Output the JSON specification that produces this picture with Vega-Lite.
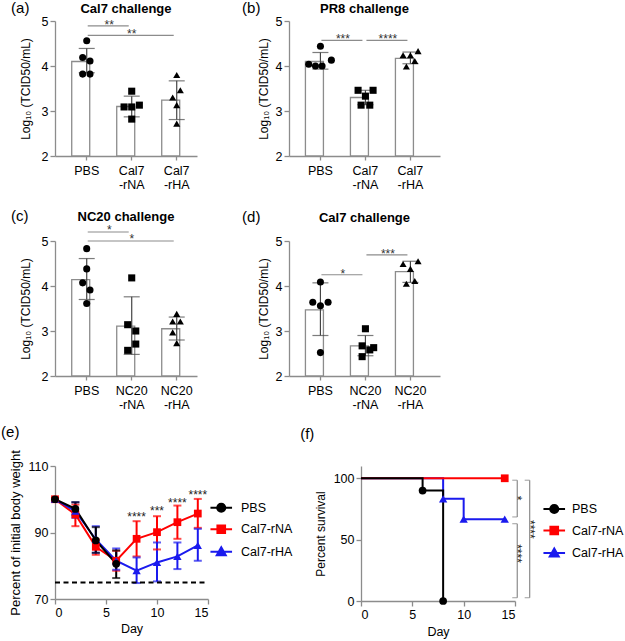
{
"$schema": "https://vega.github.io/schema/vega-lite/v6.json",
"padding": {"left": 1, "top": 1, "right": 1, "bottom": 1},
"config": {
 "font": "Liberation Sans",
 "view": {"stroke": null},
 "axis": {"grid": false, "domainColor": "#8c8c8c", "domainWidth": 1.3, "tickColor": "#8c8c8c", "tickWidth": 1.3, "tickSize": 5, "labelColor": "#000", "labelFontSize": 12.5, "titleFontSize": 12, "titleFontWeight": "normal", "titleColor": "#000", "labelPadding": 2, "titlePadding": 8},
 "title": {"fontSize": 15, "fontWeight": "normal", "anchor": "start", "frame": "bounds", "color": "#000"}
},
"datasets": {
 "bars": [
  {"p": "a", "g": "PBS", "m": 4.10, "lo": 3.85, "hi": 4.39},
  {"p": "a", "g": "Cal7-rNA", "m": 3.10, "lo": 2.87, "hi": 3.33},
  {"p": "a", "g": "Cal7-rHA", "m": 3.24, "lo": 2.81, "hi": 3.67},
  {"p": "b", "g": "PBS", "m": 4.10, "lo": 3.93, "hi": 4.30},
  {"p": "b", "g": "Cal7-rNA", "m": 3.30, "lo": 3.14, "hi": 3.46},
  {"p": "b", "g": "Cal7-rHA", "m": 4.17, "lo": 4.05, "hi": 4.31},
  {"p": "c", "g": "PBS", "m": 4.14, "lo": 3.70, "hi": 4.61},
  {"p": "c", "g": "NC20-rNA", "m": 3.11, "lo": 2.48, "hi": 3.76},
  {"p": "c", "g": "NC20-rHA", "m": 3.05, "lo": 2.80, "hi": 3.31},
  {"p": "d", "g": "PBS", "m": 3.47, "lo": 2.90, "hi": 4.07},
  {"p": "d", "g": "NC20-rNA", "m": 2.67, "lo": 2.45, "hi": 2.90},
  {"p": "d", "g": "NC20-rHA", "m": 4.32, "lo": 4.08, "hi": 4.55}
 ],
 "pts": [
  {"p": "a", "g": "PBS", "v": 4.56, "j": 0},
  {"p": "a", "g": "PBS", "v": 4.19, "j": -0.27},
  {"p": "a", "g": "PBS", "v": 4.11, "j": 0.22},
  {"p": "a", "g": "PBS", "v": 3.82, "j": -0.27},
  {"p": "a", "g": "PBS", "v": 3.82, "j": 0.22},
  {"p": "a", "g": "Cal7-rNA", "v": 3.44, "j": 0},
  {"p": "a", "g": "Cal7-rNA", "v": 3.09, "j": -0.51},
  {"p": "a", "g": "Cal7-rNA", "v": 3.09, "j": 0},
  {"p": "a", "g": "Cal7-rNA", "v": 3.13, "j": 0.51},
  {"p": "a", "g": "Cal7-rNA", "v": 2.82, "j": 0},
  {"p": "a", "g": "Cal7-rHA", "v": 3.80, "j": 0},
  {"p": "a", "g": "Cal7-rHA", "v": 3.46, "j": 0.24},
  {"p": "a", "g": "Cal7-rHA", "v": 3.30, "j": -0.27},
  {"p": "a", "g": "Cal7-rHA", "v": 3.13, "j": 0},
  {"p": "a", "g": "Cal7-rHA", "v": 2.72, "j": 0},
  {"p": "b", "g": "PBS", "v": 4.44, "j": 0},
  {"p": "b", "g": "PBS", "v": 4.04, "j": -0.78},
  {"p": "b", "g": "PBS", "v": 4.00, "j": -0.33},
  {"p": "b", "g": "PBS", "v": 4.00, "j": 0.11},
  {"p": "b", "g": "PBS", "v": 4.13, "j": 0.73},
  {"p": "b", "g": "Cal7-rNA", "v": 3.46, "j": -0.49},
  {"p": "b", "g": "Cal7-rNA", "v": 3.46, "j": 0.51},
  {"p": "b", "g": "Cal7-rNA", "v": 3.33, "j": 0},
  {"p": "b", "g": "Cal7-rNA", "v": 3.13, "j": -0.29},
  {"p": "b", "g": "Cal7-rNA", "v": 3.13, "j": 0.29},
  {"p": "b", "g": "Cal7-rHA", "v": 4.33, "j": 0.51},
  {"p": "b", "g": "Cal7-rHA", "v": 4.24, "j": -0.49},
  {"p": "b", "g": "Cal7-rHA", "v": 4.24, "j": 0},
  {"p": "b", "g": "Cal7-rHA", "v": 4.11, "j": 0.29},
  {"p": "b", "g": "Cal7-rHA", "v": 3.99, "j": -0.27},
  {"p": "c", "g": "PBS", "v": 4.83, "j": 0},
  {"p": "c", "g": "PBS", "v": 4.38, "j": 0},
  {"p": "c", "g": "PBS", "v": 4.07, "j": -0.27},
  {"p": "c", "g": "PBS", "v": 3.91, "j": 0.22},
  {"p": "c", "g": "PBS", "v": 3.61, "j": 0},
  {"p": "c", "g": "NC20-rNA", "v": 4.18, "j": 0},
  {"p": "c", "g": "NC20-rNA", "v": 3.14, "j": -0.27},
  {"p": "c", "g": "NC20-rNA", "v": 3.00, "j": 0.27},
  {"p": "c", "g": "NC20-rNA", "v": 2.71, "j": 0.27},
  {"p": "c", "g": "NC20-rNA", "v": 2.57, "j": -0.27},
  {"p": "c", "g": "NC20-rHA", "v": 3.38, "j": 0},
  {"p": "c", "g": "NC20-rHA", "v": 3.21, "j": -0.27},
  {"p": "c", "g": "NC20-rHA", "v": 3.21, "j": 0.24},
  {"p": "c", "g": "NC20-rHA", "v": 2.97, "j": -0.27},
  {"p": "c", "g": "NC20-rHA", "v": 2.73, "j": 0},
  {"p": "d", "g": "PBS", "v": 4.09, "j": 0},
  {"p": "d", "g": "PBS", "v": 3.64, "j": -0.51},
  {"p": "d", "g": "PBS", "v": 3.56, "j": 0},
  {"p": "d", "g": "PBS", "v": 3.64, "j": 0.51},
  {"p": "d", "g": "PBS", "v": 2.52, "j": 0},
  {"p": "d", "g": "NC20-rNA", "v": 3.05, "j": 0},
  {"p": "d", "g": "NC20-rNA", "v": 2.67, "j": -0.22},
  {"p": "d", "g": "NC20-rNA", "v": 2.63, "j": 0.55},
  {"p": "d", "g": "NC20-rNA", "v": 2.58, "j": 0.29},
  {"p": "d", "g": "NC20-rNA", "v": 2.43, "j": -0.22},
  {"p": "d", "g": "NC20-rHA", "v": 4.49, "j": -0.49},
  {"p": "d", "g": "NC20-rHA", "v": 4.55, "j": 0.51},
  {"p": "d", "g": "NC20-rHA", "v": 4.38, "j": 0},
  {"p": "d", "g": "NC20-rHA", "v": 4.05, "j": -0.27},
  {"p": "d", "g": "NC20-rHA", "v": 4.11, "j": 0.29}
 ],
 "sig": [
  {"p": "a", "g1": "PBS", "g2": "Cal7-rNA", "lev": 4.89, "t": "**", "span": 1},
  {"p": "a", "g1": "PBS", "g2": "Cal7-rHA", "lev": 4.68, "t": "**", "span": 2},
  {"p": "b", "g1": "PBS", "g2": "Cal7-rNA", "lev": 4.57, "t": "***", "span": 1},
  {"p": "b", "g1": "Cal7-rNA", "g2": "Cal7-rHA", "lev": 4.57, "t": "****", "span": 1},
  {"p": "c", "g1": "PBS", "g2": "NC20-rNA", "lev": 5.2, "t": "*", "span": 1},
  {"p": "c", "g1": "PBS", "g2": "NC20-rHA", "lev": 5.0, "t": "*", "span": 2},
  {"p": "d", "g1": "PBS", "g2": "NC20-rNA", "lev": 4.25, "t": "*", "span": 1},
  {"p": "d", "g1": "NC20-rNA", "g2": "NC20-rHA", "lev": 4.69, "t": "***", "span": 1}
 ],
 "wt": [
  {"g": "Cal7-rNA", "day": 0, "m": 100, "lo": 99.6, "hi": 100.4},
  {"g": "Cal7-rNA", "day": 2, "m": 95.4, "lo": 91.9, "hi": 98.4},
  {"g": "Cal7-rNA", "day": 4, "m": 85.7, "lo": 83.3, "hi": 87.9},
  {"g": "Cal7-rNA", "day": 6, "m": 81.5, "lo": 78.5, "hi": 84.5},
  {"g": "Cal7-rNA", "day": 8, "m": 88.1, "lo": 82.8, "hi": 93.4},
  {"g": "Cal7-rNA", "day": 10, "m": 90.1, "lo": 84.9, "hi": 94.9},
  {"g": "Cal7-rNA", "day": 12, "m": 93.1, "lo": 88.1, "hi": 98.1},
  {"g": "Cal7-rNA", "day": 14, "m": 95.7, "lo": 91.4, "hi": 100.1},
  {"g": "Cal7-rHA", "day": 0, "m": 100, "lo": 99.6, "hi": 100.4},
  {"g": "Cal7-rHA", "day": 2, "m": 96.4, "lo": 94.4, "hi": 99.1},
  {"g": "Cal7-rHA", "day": 4, "m": 87.9, "lo": 83.9, "hi": 91.9},
  {"g": "Cal7-rHA", "day": 6, "m": 81.5, "lo": 78.8, "hi": 85.2},
  {"g": "Cal7-rHA", "day": 8, "m": 78.5, "lo": 74.8, "hi": 82.5},
  {"g": "Cal7-rHA", "day": 10, "m": 81.0, "lo": 75.3, "hi": 87.0},
  {"g": "Cal7-rHA", "day": 12, "m": 82.8, "lo": 79.0, "hi": 87.0},
  {"g": "Cal7-rHA", "day": 14, "m": 86.1, "lo": 81.5, "hi": 91.1},
  {"g": "PBS", "day": 0, "m": 100, "lo": 99.6, "hi": 100.4},
  {"g": "PBS", "day": 2, "m": 97.1, "lo": 95.1, "hi": 99.1},
  {"g": "PBS", "day": 4, "m": 87.6, "lo": 83.9, "hi": 91.6},
  {"g": "PBS", "day": 6, "m": 80.6, "lo": 76.3, "hi": 84.6}
 ],
 "wtsig": [
  {"day": 8, "y": 95.7, "t": "****"},
  {"day": 10, "y": 97.4, "t": "***"},
  {"day": 12, "y": 99.7, "t": "****"},
  {"day": 14, "y": 102.1, "t": "****"}
 ],
 "surv": [
  {"g": "Cal7-rHA", "day": 0, "s": 100, "mk": false},
  {"g": "Cal7-rHA", "day": 8, "s": 83.3, "mk": true},
  {"g": "Cal7-rHA", "day": 10, "s": 66.7, "mk": true},
  {"g": "Cal7-rHA", "day": 14, "s": 66.7, "mk": true},
  {"g": "Cal7-rNA", "day": 0, "s": 100, "mk": false},
  {"g": "Cal7-rNA", "day": 14, "s": 100, "mk": true},
  {"g": "PBS", "day": 0, "s": 100, "mk": false},
  {"g": "PBS", "day": 6, "s": 90, "mk": true},
  {"g": "PBS", "day": 8, "s": 0, "mk": true}
 ],
 "brk": [
  {"x": 15.22, "y1": 98.4, "y2": 68.5, "ly": 83.9, "t": "*"},
  {"x": 15.22, "y1": 63.0, "y2": 2.7, "ly": 38.7, "t": "****"},
  {"x": 16.43, "y1": 98.4, "y2": 2.7, "ly": 58.4, "t": "****"}
 ]
},
"columns": 1,
"align": "none",
"spacing": 13,
"resolve": {"scale": {"shape": "independent", "color": "independent", "fill": "independent", "stroke": "independent"}},
"concat": [
 {"spacing": 18,
  "resolve": {"scale": {"shape": "independent", "color": "independent", "fill": "independent", "stroke": "independent"}},
  "vconcat": [
  {"hconcat": [
   {"title": {"text": "(a)", "offset": -13, "dx": -8},
    "hconcat": [
    {"title": {"text": "Cal7 challenge", "anchor": "middle", "frame": "group", "fontWeight": "bold", "fontSize": 13, "offset": -1},
     "width": 142, "height": 135,
     "layer": [
      {"data": {"name": "bars"}, "transform": [{"filter": "datum.p == 'a'"}],
       "mark": {"type": "bar", "fill": "white", "stroke": "#8c8c8c", "strokeWidth": 1.3},
       "encoding": {
        "x": {"field": "g", "type": "nominal", "scale": {"domain": ["PBS", "Cal7-rNA", "Cal7-rHA"], "paddingInner": 0.3333, "paddingOuter": 0.2444, "align": 0.76}, "axis": {"orient": "bottom", "title": null, "labelAngle": 0, "labelExpr": "split(replace(datum.value, '-', '|-'), '|')", "labelLineHeight": 14, "tickSize": 4, "labelPadding": 4}},
        "y": {"field": "m", "type": "quantitative", "scale": {"domain": [2, 5], "nice": false, "zero": false}, "axis": {"values": [2, 3, 4, 5], "title": "Log₁₀ (TCID50/mL)", "titlePadding": 9}},
        "y2": {"datum": 2}}},
      {"data": {"name": "bars"}, "transform": [{"filter": "datum.p == 'a'"}],
       "mark": {"type": "rule", "color": "#444", "strokeWidth": 1.2},
       "encoding": {"x": {"field": "g", "type": "nominal"}, "y": {"field": "lo", "type": "quantitative"}, "y2": {"field": "hi"}}},
      {"data": {"name": "bars"}, "transform": [{"filter": "datum.p == 'a'"}],
       "mark": {"type": "tick", "orient": "horizontal", "size": 16, "thickness": 1.2, "color": "#444"},
       "encoding": {"x": {"field": "g", "type": "nominal"}, "y": {"field": "lo", "type": "quantitative"}}},
      {"data": {"name": "bars"}, "transform": [{"filter": "datum.p == 'a'"}],
       "mark": {"type": "tick", "orient": "horizontal", "size": 16, "thickness": 1.2, "color": "#444"},
       "encoding": {"x": {"field": "g", "type": "nominal"}, "y": {"field": "hi", "type": "quantitative"}}},
      {"data": {"name": "pts"}, "transform": [{"filter": "datum.p == 'a'"}],
       "mark": {"type": "point", "filled": true, "size": 50, "color": "black", "opacity": 1},
       "encoding": {"x": {"field": "g", "type": "nominal", "bandPosition": 0},
        "xOffset": {"field": "j", "type": "quantitative", "scale": {"domain": [-1, 1], "range": [0, 30]}},
        "y": {"field": "v", "type": "quantitative"},
        "shape": {"field": "g", "type": "nominal", "scale": {"domain": ["PBS", "Cal7-rNA", "Cal7-rHA"], "range": ["circle", "square", "triangle-up"]}, "legend": null}}},
      {"data": {"name": "sig"}, "transform": [{"filter": "datum.p == 'a'"}],
       "mark": {"type": "rule", "color": "#8c8c8c", "strokeWidth": 1.2, "xOffset": 1, "x2Offset": -3},
       "encoding": {"x": {"field": "g1", "type": "nominal"}, "x2": {"field": "g2"}, "y": {"field": "lev", "type": "quantitative"}}},
      {"data": {"name": "sig"}, "transform": [{"filter": "datum.p == 'a' && datum.span == 1"}],
       "mark": {"type": "text", "fontSize": 12, "dy": 3, "baseline": "alphabetic", "color": "#333"},
       "encoding": {"x": {"field": "g1", "type": "nominal", "bandPosition": 1.25}, "y": {"field": "lev", "type": "quantitative"}, "text": {"field": "t"}}},
      {"data": {"name": "sig"}, "transform": [{"filter": "datum.p == 'a' && datum.span == 2"}],
       "mark": {"type": "text", "fontSize": 12, "dy": 3, "baseline": "alphabetic", "color": "#333"},
       "encoding": {"x": {"field": "g1", "type": "nominal", "bandPosition": 2}, "y": {"field": "lev", "type": "quantitative"}, "text": {"field": "t"}}}
     ]}
    ]},
   {"title": {"text": "(b)", "offset": -13, "dx": -15},
    "hconcat": [
    {"title": {"text": "PR8 challenge", "anchor": "middle", "frame": "group", "fontWeight": "bold", "fontSize": 13, "offset": -1},
     "width": 151, "height": 135,
     "layer": [
      {"data": {"name": "bars"}, "transform": [{"filter": "datum.p == 'b'"}],
       "mark": {"type": "bar", "fill": "white", "stroke": "#8c8c8c", "strokeWidth": 1.3},
       "encoding": {
        "x": {"field": "g", "type": "nominal", "scale": {"domain": ["PBS", "Cal7-rNA", "Cal7-rHA"], "paddingInner": 0.3333, "paddingOuter": 0.3444, "align": 0.53}, "axis": {"orient": "bottom", "title": null, "labelAngle": 0, "labelExpr": "split(replace(datum.value, '-', '|-'), '|')", "labelLineHeight": 14, "tickSize": 4, "labelPadding": 4}},
        "y": {"field": "m", "type": "quantitative", "scale": {"domain": [2, 5], "nice": false, "zero": false}, "axis": {"values": [2, 3, 4, 5], "title": "Log₁₀ (TCID50/mL)", "titlePadding": 5}},
        "y2": {"datum": 2}}},
      {"data": {"name": "bars"}, "transform": [{"filter": "datum.p == 'b'"}],
       "mark": {"type": "rule", "color": "#444", "strokeWidth": 1.2},
       "encoding": {"x": {"field": "g", "type": "nominal"}, "y": {"field": "lo", "type": "quantitative"}, "y2": {"field": "hi"}}},
      {"data": {"name": "bars"}, "transform": [{"filter": "datum.p == 'b'"}],
       "mark": {"type": "tick", "orient": "horizontal", "size": 16, "thickness": 1.2, "color": "#444"},
       "encoding": {"x": {"field": "g", "type": "nominal"}, "y": {"field": "lo", "type": "quantitative"}}},
      {"data": {"name": "bars"}, "transform": [{"filter": "datum.p == 'b'"}],
       "mark": {"type": "tick", "orient": "horizontal", "size": 16, "thickness": 1.2, "color": "#444"},
       "encoding": {"x": {"field": "g", "type": "nominal"}, "y": {"field": "hi", "type": "quantitative"}}},
      {"data": {"name": "pts"}, "transform": [{"filter": "datum.p == 'b'"}],
       "mark": {"type": "point", "filled": true, "size": 50, "color": "black", "opacity": 1},
       "encoding": {"x": {"field": "g", "type": "nominal", "bandPosition": 0},
        "xOffset": {"field": "j", "type": "quantitative", "scale": {"domain": [-1, 1], "range": [0, 30]}},
        "y": {"field": "v", "type": "quantitative"},
        "shape": {"field": "g", "type": "nominal", "scale": {"domain": ["PBS", "Cal7-rNA", "Cal7-rHA"], "range": ["circle", "square", "triangle-up"]}, "legend": null}}},
      {"data": {"name": "sig"}, "transform": [{"filter": "datum.p == 'b'"}],
       "mark": {"type": "rule", "color": "#8c8c8c", "strokeWidth": 1.2, "xOffset": 1, "x2Offset": -3},
       "encoding": {"x": {"field": "g1", "type": "nominal"}, "x2": {"field": "g2"}, "y": {"field": "lev", "type": "quantitative"}}},
      {"data": {"name": "sig"}, "transform": [{"filter": "datum.p == 'b' && datum.span == 1"}],
       "mark": {"type": "text", "fontSize": 12, "dy": 3, "baseline": "alphabetic", "color": "#333"},
       "encoding": {"x": {"field": "g1", "type": "nominal", "bandPosition": 1.25}, "y": {"field": "lev", "type": "quantitative"}, "text": {"field": "t"}}}
     ]}
    ]}
  ], "spacing": 45, "resolve": {"scale": {"shape": "independent", "color": "independent", "fill": "independent", "stroke": "independent"}}},
  {"hconcat": [
   {"title": {"text": "(c)", "offset": -13, "dx": -8},
    "hconcat": [
    {"title": {"text": "NC20 challenge", "anchor": "middle", "frame": "group", "fontWeight": "bold", "fontSize": 13, "offset": 0},
     "width": 142, "height": 135,
     "layer": [
      {"data": {"name": "bars"}, "transform": [{"filter": "datum.p == 'c'"}],
       "mark": {"type": "bar", "fill": "white", "stroke": "#8c8c8c", "strokeWidth": 1.3},
       "encoding": {
        "x": {"field": "g", "type": "nominal", "scale": {"domain": ["PBS", "NC20-rNA", "NC20-rHA"], "paddingInner": 0.3333, "paddingOuter": 0.2444, "align": 0.76}, "axis": {"orient": "bottom", "title": null, "labelAngle": 0, "labelExpr": "split(replace(datum.value, '-', '|-'), '|')", "labelLineHeight": 14, "tickSize": 4, "labelPadding": 4}},
        "y": {"field": "m", "type": "quantitative", "scale": {"domain": [2, 5], "nice": false, "zero": false}, "axis": {"values": [2, 3, 4, 5], "title": "Log₁₀ (TCID50/mL)", "titlePadding": 9}},
        "y2": {"datum": 2}}},
      {"data": {"name": "bars"}, "transform": [{"filter": "datum.p == 'c'"}],
       "mark": {"type": "rule", "color": "#444", "strokeWidth": 1.2},
       "encoding": {"x": {"field": "g", "type": "nominal"}, "y": {"field": "lo", "type": "quantitative"}, "y2": {"field": "hi"}}},
      {"data": {"name": "bars"}, "transform": [{"filter": "datum.p == 'c'"}],
       "mark": {"type": "tick", "orient": "horizontal", "size": 16, "thickness": 1.2, "color": "#444"},
       "encoding": {"x": {"field": "g", "type": "nominal"}, "y": {"field": "lo", "type": "quantitative"}}},
      {"data": {"name": "bars"}, "transform": [{"filter": "datum.p == 'c'"}],
       "mark": {"type": "tick", "orient": "horizontal", "size": 16, "thickness": 1.2, "color": "#444"},
       "encoding": {"x": {"field": "g", "type": "nominal"}, "y": {"field": "hi", "type": "quantitative"}}},
      {"data": {"name": "pts"}, "transform": [{"filter": "datum.p == 'c'"}],
       "mark": {"type": "point", "filled": true, "size": 50, "color": "black", "opacity": 1},
       "encoding": {"x": {"field": "g", "type": "nominal", "bandPosition": 0},
        "xOffset": {"field": "j", "type": "quantitative", "scale": {"domain": [-1, 1], "range": [0, 30]}},
        "y": {"field": "v", "type": "quantitative"},
        "shape": {"field": "g", "type": "nominal", "scale": {"domain": ["PBS", "NC20-rNA", "NC20-rHA"], "range": ["circle", "square", "triangle-up"]}, "legend": null}}},
      {"data": {"name": "sig"}, "transform": [{"filter": "datum.p == 'c'"}],
       "mark": {"type": "rule", "color": "#8c8c8c", "strokeWidth": 1.2, "xOffset": 1, "x2Offset": -3},
       "encoding": {"x": {"field": "g1", "type": "nominal"}, "x2": {"field": "g2"}, "y": {"field": "lev", "type": "quantitative"}}},
      {"data": {"name": "sig"}, "transform": [{"filter": "datum.p == 'c' && datum.span == 1"}],
       "mark": {"type": "text", "fontSize": 12, "dy": 2, "baseline": "alphabetic", "color": "#333"},
       "encoding": {"x": {"field": "g1", "type": "nominal", "bandPosition": 1.25}, "y": {"field": "lev", "type": "quantitative"}, "text": {"field": "t"}}},
      {"data": {"name": "sig"}, "transform": [{"filter": "datum.p == 'c' && datum.span == 2"}],
       "mark": {"type": "text", "fontSize": 12, "dy": 2, "baseline": "alphabetic", "color": "#333"},
       "encoding": {"x": {"field": "g1", "type": "nominal", "bandPosition": 2}, "y": {"field": "lev", "type": "quantitative"}, "text": {"field": "t"}}}
     ]}
    ]},
   {"title": {"text": "(d)", "offset": -13, "dx": -15},
    "hconcat": [
    {"title": {"text": "Cal7 challenge", "anchor": "middle", "frame": "group", "fontWeight": "bold", "fontSize": 13, "offset": 10.5},
     "width": 151, "height": 135,
     "layer": [
      {"data": {"name": "bars"}, "transform": [{"filter": "datum.p == 'd'"}],
       "mark": {"type": "bar", "fill": "white", "stroke": "#8c8c8c", "strokeWidth": 1.3},
       "encoding": {
        "x": {"field": "g", "type": "nominal", "scale": {"domain": ["PBS", "NC20-rNA", "NC20-rHA"], "paddingInner": 0.3333, "paddingOuter": 0.3444, "align": 0.53}, "axis": {"orient": "bottom", "title": null, "labelAngle": 0, "labelExpr": "split(replace(datum.value, '-', '|-'), '|')", "labelLineHeight": 14, "tickSize": 4, "labelPadding": 4}},
        "y": {"field": "m", "type": "quantitative", "scale": {"domain": [2, 5], "nice": false, "zero": false}, "axis": {"values": [2, 3, 4, 5], "title": "Log₁₀ (TCID50/mL)", "titlePadding": 5}},
        "y2": {"datum": 2}}},
      {"data": {"name": "bars"}, "transform": [{"filter": "datum.p == 'd'"}],
       "mark": {"type": "rule", "color": "#444", "strokeWidth": 1.2},
       "encoding": {"x": {"field": "g", "type": "nominal"}, "y": {"field": "lo", "type": "quantitative"}, "y2": {"field": "hi"}}},
      {"data": {"name": "bars"}, "transform": [{"filter": "datum.p == 'd'"}],
       "mark": {"type": "tick", "orient": "horizontal", "size": 16, "thickness": 1.2, "color": "#444"},
       "encoding": {"x": {"field": "g", "type": "nominal"}, "y": {"field": "lo", "type": "quantitative"}}},
      {"data": {"name": "bars"}, "transform": [{"filter": "datum.p == 'd'"}],
       "mark": {"type": "tick", "orient": "horizontal", "size": 16, "thickness": 1.2, "color": "#444"},
       "encoding": {"x": {"field": "g", "type": "nominal"}, "y": {"field": "hi", "type": "quantitative"}}},
      {"data": {"name": "pts"}, "transform": [{"filter": "datum.p == 'd'"}],
       "mark": {"type": "point", "filled": true, "size": 50, "color": "black", "opacity": 1},
       "encoding": {"x": {"field": "g", "type": "nominal", "bandPosition": 0},
        "xOffset": {"field": "j", "type": "quantitative", "scale": {"domain": [-1, 1], "range": [0, 30]}},
        "y": {"field": "v", "type": "quantitative"},
        "shape": {"field": "g", "type": "nominal", "scale": {"domain": ["PBS", "NC20-rNA", "NC20-rHA"], "range": ["circle", "square", "triangle-up"]}, "legend": null}}},
      {"data": {"name": "sig"}, "transform": [{"filter": "datum.p == 'd'"}],
       "mark": {"type": "rule", "color": "#8c8c8c", "strokeWidth": 1.2, "xOffset": 1, "x2Offset": -3},
       "encoding": {"x": {"field": "g1", "type": "nominal"}, "x2": {"field": "g2"}, "y": {"field": "lev", "type": "quantitative"}}},
      {"data": {"name": "sig"}, "transform": [{"filter": "datum.p == 'd' && datum.span == 1"}],
       "mark": {"type": "text", "fontSize": 12, "dy": 3, "baseline": "alphabetic", "color": "#333"},
       "encoding": {"x": {"field": "g1", "type": "nominal", "bandPosition": 1.25}, "y": {"field": "lev", "type": "quantitative"}, "text": {"field": "t"}}}
     ]}
    ]}
  ], "spacing": 45, "resolve": {"scale": {"shape": "independent", "color": "independent", "fill": "independent", "stroke": "independent"}}}
 ]},
 {"hconcat": [
  {"title": {"text": "(e)", "offset": 10, "dx": -8},
   "width": 153, "height": 133,
   "layer": [
    {"data": {"name": "wt"},
     "mark": {"type": "rule", "strokeWidth": 2},
     "encoding": {
      "x": {"field": "day", "type": "quantitative", "scale": {"domain": [0, 15], "nice": false}, "axis": {"values": [0, 5, 10, 15], "title": "Day", "titleFontSize": 12.5, "titlePadding": 4}},
      "y": {"field": "lo", "type": "quantitative", "scale": {"domain": [70, 110], "nice": false, "zero": false}, "axis": {"values": [70, 80, 90, 100, 110], "title": "Percent of initial body weight", "titleFontSize": 13, "titlePadding": 6}},
      "y2": {"field": "hi"},
      "color": {"field": "g", "type": "nominal", "scale": {"domain": ["Cal7-rNA", "Cal7-rHA", "PBS"], "range": ["#ff0000", "#1a1aee", "#000000"]}, "legend": null}}},
    {"data": {"name": "wt"},
     "mark": {"type": "tick", "orient": "horizontal", "size": 8, "thickness": 2},
     "encoding": {"x": {"field": "day", "type": "quantitative"}, "y": {"field": "lo", "type": "quantitative"}, "color": {"field": "g", "type": "nominal", "legend": null}}},
    {"data": {"name": "wt"},
     "mark": {"type": "tick", "orient": "horizontal", "size": 8, "thickness": 2},
     "encoding": {"x": {"field": "day", "type": "quantitative"}, "y": {"field": "hi", "type": "quantitative"}, "color": {"field": "g", "type": "nominal", "legend": null}}},
    {"data": {"values": [{}]},
     "mark": {"type": "rule", "strokeDash": [5, 3.5], "strokeWidth": 2, "color": "black"},
     "encoding": {"x": {"datum": 0, "type": "quantitative"}, "x2": {"datum": 15}, "y": {"datum": 75, "type": "quantitative"}}},
    {"data": {"name": "wt"},
     "mark": {"type": "line", "strokeWidth": 2},
     "encoding": {"x": {"field": "day", "type": "quantitative"}, "y": {"field": "m", "type": "quantitative"}, "color": {"field": "g", "type": "nominal", "legend": null}}},
    {"data": {"name": "wt"}, "transform": [{"filter": "datum.g == 'Cal7-rNA'"}],
     "mark": {"type": "point", "shape": "square", "filled": true, "size": 60, "opacity": 1},
     "encoding": {"x": {"field": "day", "type": "quantitative"}, "y": {"field": "m", "type": "quantitative"}, "color": {"field": "g", "type": "nominal", "legend": null}}},
    {"data": {"name": "wt"}, "transform": [{"filter": "datum.g == 'Cal7-rHA'"}],
     "mark": {"type": "point", "shape": "triangle-up", "filled": true, "size": 70, "opacity": 1},
     "encoding": {"x": {"field": "day", "type": "quantitative"}, "y": {"field": "m", "type": "quantitative"}, "color": {"field": "g", "type": "nominal", "legend": null}}},
    {"data": {"name": "wt"}, "transform": [{"filter": "datum.g == 'PBS'"}],
     "mark": {"type": "point", "shape": "circle", "filled": true, "size": 60, "opacity": 1},
     "encoding": {"x": {"field": "day", "type": "quantitative"}, "y": {"field": "m", "type": "quantitative"}, "color": {"field": "g", "type": "nominal", "legend": null}}},
    {"data": {"name": "wtsig"},
     "mark": {"type": "text", "fontSize": 12, "dy": 7, "baseline": "alphabetic", "color": "#222"},
     "encoding": {"x": {"field": "day", "type": "quantitative"}, "y": {"field": "y", "type": "quantitative"}, "text": {"field": "t"}}},
    {"data": {"name": "wt"}, "transform": [{"filter": "datum.day == 0"}],
     "mark": {"type": "point", "filled": true, "opacity": 0},
     "encoding": {
      "x": {"field": "day", "type": "quantitative"}, "y": {"field": "m", "type": "quantitative"},
      "fill": {"field": "g", "type": "nominal", "scale": {"domain": ["PBS", "Cal7-rNA", "Cal7-rHA"], "range": ["#000000", "#ff0000", "#1a1aee"]},
       "legend": {"orient": "none", "legendX": 160, "legendY": 35.5, "title": null, "symbolSize": 81, "symbolStrokeWidth": 2, "symbolOpacity": 1, "labelFontSize": 12.5, "labelOffset": 13.5, "rowPadding": 4.5, "padding": 0, "labelColor": "black", "labelLimit": 200}},
      "stroke": {"field": "g", "type": "nominal", "scale": {"domain": ["PBS", "Cal7-rNA", "Cal7-rHA"], "range": ["#000000", "#ff0000", "#1a1aee"]},
       "legend": {"orient": "none", "legendX": 160, "legendY": 35.5, "title": null, "symbolSize": 81, "symbolStrokeWidth": 2, "symbolOpacity": 1, "labelFontSize": 12.5, "labelOffset": 13.5, "rowPadding": 4.5, "padding": 0, "labelColor": "black", "labelLimit": 200}},
      "shape": {"field": "g", "type": "nominal", "scale": {"domain": ["PBS", "Cal7-rNA", "Cal7-rHA"], "range": ["M-2.4,0H2.4M0.9,0A0.9,0.9,0,1,1,-0.9,0A0.9,0.9,0,1,1,0.9,0Z", "M-2.4,0H2.4M-0.85,-0.85H0.85V0.85H-0.85Z", "M-2.4,0H2.4M0,-1L1,0.75H-1Z"]},
       "legend": {"orient": "none", "legendX": 160, "legendY": 35.5, "title": null, "symbolSize": 81, "symbolStrokeWidth": 2, "symbolOpacity": 1, "labelFontSize": 12.5, "labelOffset": 13.5, "rowPadding": 4.5, "padding": 0, "labelColor": "black", "labelLimit": 200}}}}
   ]},
  {"title": {"text": "(f)", "offset": 24.5, "dx": -14},
   "width": 154, "height": 135,
   "layer": [
    {"data": {"name": "brk"},
     "mark": {"type": "rule", "color": "#8c8c8c", "strokeWidth": 1.2},
     "encoding": {
      "x": {"field": "x", "type": "quantitative", "scale": {"domain": [0, 15], "nice": false}, "axis": {"values": [0, 5, 10, 15], "title": "Day", "titleFontSize": 12.5, "titlePadding": 5}},
      "y": {"field": "y1", "type": "quantitative", "scale": {"domain": [0, 110], "nice": false}, "axis": {"values": [0, 50, 100], "title": "Percent survival", "titlePadding": 6}},
      "y2": {"field": "y2"}}},
    {"data": {"name": "brk"},
     "mark": {"type": "tick", "orient": "horizontal", "size": 5, "thickness": 1.2, "color": "#8c8c8c", "xOffset": -2.5},
     "encoding": {"x": {"field": "x", "type": "quantitative"}, "y": {"field": "y1", "type": "quantitative"}}},
    {"data": {"name": "brk"},
     "mark": {"type": "tick", "orient": "horizontal", "size": 5, "thickness": 1.2, "color": "#8c8c8c", "xOffset": -2.5},
     "encoding": {"x": {"field": "x", "type": "quantitative"}, "y": {"field": "y2", "type": "quantitative"}}},
    {"data": {"name": "brk"},
     "mark": {"type": "text", "fontSize": 12, "angle": 90, "baseline": "middle", "align": "center", "color": "#222"},
     "encoding": {"x": {"field": "x", "type": "quantitative"}, "y": {"field": "ly", "type": "quantitative"}, "text": {"field": "t"}}},
    {"data": {"name": "surv"},
     "mark": {"type": "line", "interpolate": "step-after", "strokeWidth": 2},
     "encoding": {"x": {"field": "day", "type": "quantitative"}, "y": {"field": "s", "type": "quantitative"},
      "color": {"field": "g", "type": "nominal", "scale": {"domain": ["Cal7-rNA", "Cal7-rHA", "PBS"], "range": ["#ff0000", "#1a1aee", "#000000"]}, "legend": null}}},
    {"data": {"name": "surv"}, "transform": [{"filter": "datum.mk && datum.g == 'Cal7-rHA'"}],
     "mark": {"type": "point", "shape": "triangle-up", "filled": true, "size": 70, "opacity": 1},
     "encoding": {"x": {"field": "day", "type": "quantitative"}, "y": {"field": "s", "type": "quantitative"}, "color": {"field": "g", "type": "nominal", "legend": null}}},
    {"data": {"name": "surv"}, "transform": [{"filter": "datum.mk && datum.g == 'Cal7-rNA'"}],
     "mark": {"type": "point", "shape": "square", "filled": true, "size": 60, "opacity": 1},
     "encoding": {"x": {"field": "day", "type": "quantitative"}, "y": {"field": "s", "type": "quantitative"}, "color": {"field": "g", "type": "nominal", "legend": null}}},
    {"data": {"name": "surv"}, "transform": [{"filter": "datum.mk && datum.g == 'PBS'"}],
     "mark": {"type": "point", "shape": "circle", "filled": true, "size": 60, "opacity": 1},
     "encoding": {"x": {"field": "day", "type": "quantitative"}, "y": {"field": "s", "type": "quantitative"}, "color": {"field": "g", "type": "nominal", "legend": null}}},
    {"data": {"name": "surv"}, "transform": [{"filter": "datum.day == 0"}],
     "mark": {"type": "point", "filled": true, "opacity": 0},
     "encoding": {
      "x": {"field": "day", "type": "quantitative"}, "y": {"field": "s", "type": "quantitative"},
      "fill": {"field": "g", "type": "nominal", "scale": {"domain": ["PBS", "Cal7-rNA", "Cal7-rHA"], "range": ["#000000", "#ff0000", "#1a1aee"]},
       "legend": {"orient": "none", "legendX": 187, "legendY": 36.75, "title": null, "symbolSize": 81, "symbolStrokeWidth": 2, "symbolOpacity": 1, "labelFontSize": 12.5, "labelOffset": 11.5, "rowPadding": 4.5, "padding": 0, "labelColor": "black", "labelLimit": 200}},
      "stroke": {"field": "g", "type": "nominal", "scale": {"domain": ["PBS", "Cal7-rNA", "Cal7-rHA"], "range": ["#000000", "#ff0000", "#1a1aee"]},
       "legend": {"orient": "none", "legendX": 187, "legendY": 36.75, "title": null, "symbolSize": 81, "symbolStrokeWidth": 2, "symbolOpacity": 1, "labelFontSize": 12.5, "labelOffset": 11.5, "rowPadding": 4.5, "padding": 0, "labelColor": "black", "labelLimit": 200}},
      "shape": {"field": "g", "type": "nominal", "scale": {"domain": ["PBS", "Cal7-rNA", "Cal7-rHA"], "range": ["M-2.4,0H2.4M0.9,0A0.9,0.9,0,1,1,-0.9,0A0.9,0.9,0,1,1,0.9,0Z", "M-2.4,0H2.4M-0.85,-0.85H0.85V0.85H-0.85Z", "M-2.4,0H2.4M0,-1L1,0.75H-1Z"]},
       "legend": {"orient": "none", "legendX": 187, "legendY": 36.75, "title": null, "symbolSize": 81, "symbolStrokeWidth": 2, "symbolOpacity": 1, "labelFontSize": 12.5, "labelOffset": 11.5, "rowPadding": 4.5, "padding": 0, "labelColor": "black", "labelLimit": 200}}}}
   ]}
 ], "spacing": 7, "resolve": {"scale": {"shape": "independent", "color": "independent", "fill": "independent", "stroke": "independent"}}}
]
}
